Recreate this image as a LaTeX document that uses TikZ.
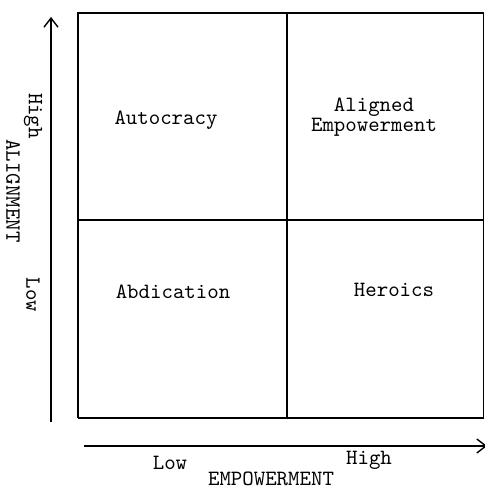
\documentclass[tikz,border=0pt]{standalone}
\usepackage{fontspec}
\usetikzlibrary{arrows.meta}
\begin{document}
\begin{tikzpicture}[x=0.5pt,y=-0.5pt,
  frame/.style={line width=0.8pt},
  axis/.style={line width=0.7pt,-{Straight Barb[length=4.5pt,width=7pt,line width=0.7pt]}},
  lbl/.style={font=\ttfamily\fontsize{10.9}{10}\selectfont,inner sep=0pt,align=center},
  vlbl/.style={lbl,rotate=-90}]
\useasboundingbox (0,0) rectangle (484,490);
% quadrant frame
\coordinate (tl) at (78,13);
\coordinate (tr) at (484,13);
\coordinate (bl) at (78,418);
\coordinate (br) at (484,418);
\coordinate (mt) at (287,13);
\coordinate (mb) at (287,418);
\coordinate (ml) at (78,220);
\coordinate (mr) at (484,220);
\draw[frame] (bl) -- (tl) -- (tr);
\draw[frame] (bl) -- (br);
\draw[frame,line width=0.5pt] (483,13) -- (483,418);
\draw[frame] (mt) -- (mb);
\draw[frame] (ml) -- (mr);
% axes
\coordinate (ya) at (51,422);
\coordinate (yb) at (51,17);
\coordinate (xa) at (84,446);
\coordinate (xb) at (487,446);
\draw[axis] (ya) -- (yb);
\draw[axis] (xa) -- (xb);
% quadrant names
\node[lbl] (q1) at (166,120) {Autocracy};
\node[lbl] (q2) at (374,117) {Aligned\\Empowerment};
\node[lbl] (q3) at (173,292) {Abdication};
\node[lbl] (q4) at (394,290) {Heroics};
% axis labels
\node[vlbl] (yh) at (33,116) {High};
\node[vlbl] (yn) at (13,191) {ALIGNMENT};
\node[vlbl] (yl) at (33,295) {Low};
\node[lbl] (xl) at (170,463) {Low};
\node[lbl] (xh) at (369,460) {High};
\node[lbl] (xn) at (271,479) {EMPOWERMENT};
\end{tikzpicture}
\end{document}
